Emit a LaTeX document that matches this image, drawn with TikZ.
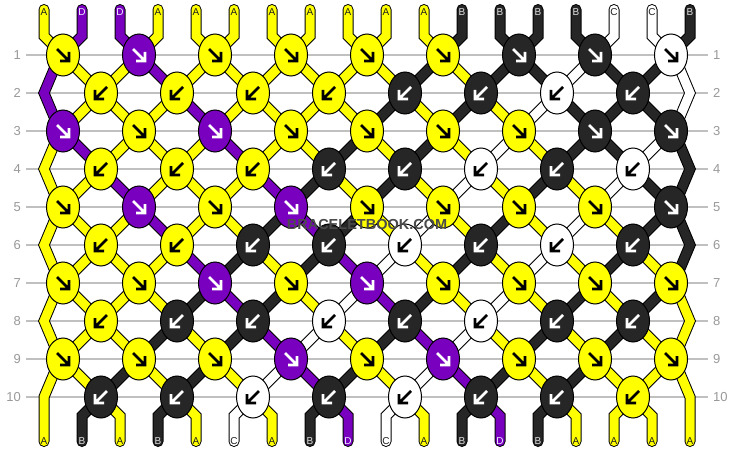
\documentclass[tikz,border=0pt]{standalone}
\usepackage{fontspec}
\setmainfont{Liberation Sans}
\usetikzlibrary{shapes.geometric}
\definecolor{cA}{HTML}{FFFF00}
\definecolor{cB}{HTML}{262626}
\definecolor{cC}{HTML}{FFFFFF}
\definecolor{cD}{HTML}{7800BE}
\colorlet{aA}{black}\colorlet{aB}{white}\colorlet{aC}{black}\colorlet{aD}{white}
\definecolor{lA}{HTML}{202020}
\definecolor{lB}{HTML}{E0E0E0}
\definecolor{lC}{HTML}{202020}
\definecolor{lD}{HTML}{EEEEFF}
\definecolor{gridgray}{HTML}{C0C0C0}
\definecolor{numgray}{HTML}{999999}
\definecolor{wmgray}{HTML}{4A4A4A}
\pgfdeclarelayer{bg}\pgfsetlayers{bg,main}
\tikzset{
 knot/.style={ellipse, draw=black, line width=1pt, minimum width=33pt, minimum height=42pt, inner sep=0pt},
 strand/.style={draw=black, line width=1pt, double=#1, double distance=9pt},
 arr/.style={draw=#1, line width=2.6pt},
 gridline/.style={draw=gridgray, line width=1.2pt},
 rownum/.style={text=numgray, font=\fontsize{13}{13}\selectfont, inner sep=0pt},
 endlbl/.style={font=\fontsize{10}{10}\selectfont, inner sep=0pt},
 wmark/.style={font=\fontsize{14.5}{14.5}\selectfont\bfseries, inner sep=0pt},
}
\newcommand\knotrow[2]{%
 \foreach \cl [count=\kk from 0] in {#2}{%
  \ifodd#1\relax\pgfmathsetmacro\kx{63+76*\kk}\else\pgfmathsetmacro\kx{101+76*\kk}\fi
  \pgfmathsetmacro\ky{55+38*(#1-1)}%
  \node[knot, fill=c\cl] (n#1-\kk) at (\kx,\ky) {};
  \ifodd#1\relax
   \draw[arr=a\cl] (n#1-\kk.center) +(-6,-6) -- +(5,5) +(6,-3) -- +(6,6) -- +(-3,6);
  \else
   \draw[arr=a\cl] (n#1-\kk.center) +(6,-6) -- +(-5,5) +(-6,-3) -- +(-6,6) -- +(3,6);
  \fi}}
\newcommand\strandgap[2]{%
 \foreach \cl [count=\p from 0] in {#2}{%
  \ifnum\p>0 \ifnum\p<17
   \pgfmathtruncatemacro\ka{floor(\p/2)}%
   \pgfmathtruncatemacro\kb{floor((\p-1)/2)}%
   \pgfmathtruncatemacro\jn{#1+1}%
   \ifodd#1\relax
    \draw[strand=c\cl] (n#1-\ka.center) -- (n\jn-\kb.center);
   \else
    \draw[strand=c\cl] (n#1-\kb.center) -- (n\jn-\ka.center);
   \fi
  \fi\fi}}
\begin{document}
\begin{tikzpicture}[x=1pt,y=-1pt]
\useasboundingbox (0,0) rectangle (734,452);
% knots
\knotrow{1}{A,D,A,A,A,A,B,B,C}
\knotrow{2}{A,A,A,A,B,B,C,B}
\knotrow{3}{D,A,D,A,A,A,A,B,B}
\knotrow{4}{A,A,A,B,B,C,B,C}
\knotrow{5}{A,D,A,D,A,A,A,A,B}
\knotrow{6}{A,A,B,B,C,B,C,B}
\knotrow{7}{A,A,D,A,D,A,A,A,A}
\knotrow{8}{A,B,B,C,B,C,B,B}
\knotrow{9}{A,A,A,D,A,D,A,A,A}
\knotrow{10}{B,B,C,B,C,B,B,A}
\begin{pgfonlayer}{bg}
\fill[white] (0,0) rectangle (734,452);
% grid and row numbers
\foreach \j in {1,...,10}{%
 \pgfmathsetmacro\ry{55+38*(\j-1)}%
 \draw[gridline] (26,\ry) -- (708,\ry);
 \node[rownum, anchor=east] (ll\j) at (21,\ry) {\j};
 \node[rownum, anchor=west] (lr\j) at (713,\ry) {\j};
}
% strands between rows
\strandgap{1}{D,A,A,D,A,A,A,A,A,A,B,A,B,B,C,B,B,C}
\strandgap{2}{D,A,A,A,D,A,A,A,A,B,A,B,A,C,B,B,B,C}
\strandgap{3}{A,D,A,A,A,D,A,A,B,A,B,A,C,A,B,B,C,B}
\strandgap{4}{A,A,D,A,A,A,D,B,A,B,A,C,A,B,A,C,B,B}
\strandgap{5}{A,A,A,D,A,A,B,D,B,A,C,A,B,A,C,A,B,B}
\strandgap{6}{A,A,A,A,D,B,A,B,D,C,A,B,A,C,A,B,A,B}
\strandgap{7}{A,A,A,A,B,D,B,A,C,D,B,A,C,A,B,A,B,A}
\strandgap{8}{A,A,A,B,A,B,D,C,A,B,D,C,A,B,A,B,A,A}
\strandgap{9}{A,A,B,A,B,A,C,D,B,A,C,D,B,A,B,A,A,A}
% edge zigzags
\foreach \j/\cL/\cR in {1/D/C,3/A/B,5/A/B,7/A/A}{%
 \pgfmathtruncatemacro\jb{\j+2}%
 \pgfmathsetmacro\ym{55+38*\j}%
 \coordinate (el\j) at (44,\ym);
 \coordinate (er\j) at (690,\ym);
 \draw[strand=c\cL] ([xshift=-3pt]n\j-0.center) -- (el\j) -- ([xshift=-3pt]n\jb-0.center);
 \draw[strand=c\cR] ([xshift=3pt]n\j-8.center) -- (er\j) -- ([xshift=3pt]n\jb-8.center);
}
% top ends
\foreach \cl [count=\p from 0] in {A,D,D,A,A,A,A,A,A,A,A,B,B,B,B,C,C,B}{%
 \pgfmathsetmacro\sx{44+38*\p}%
 \pgfmathtruncatemacro\ka{floor(\p/2)}%
 \coordinate (t\p) at (\sx,9.5);
 \draw[strand=c\cl, line cap=round] (t\p) -- (\sx,36) -- (n1-\ka.center);
}
% bottom ends
\foreach \cl [count=\p from 0] in {A,B,A,B,A,C,A,B,D,C,A,B,D,B,A,A,A,A}{%
 \pgfmathsetmacro\sx{44+38*\p}%
 \coordinate (b\p) at (\sx,441.5);
 \ifnum\p=0
  \draw[strand=c\cl, line cap=round] ([xshift=-3pt]n9-0.center) -- (44,397) -- (b\p);
 \else\ifnum\p=17
  \draw[strand=c\cl, line cap=round] ([xshift=3pt]n9-8.center) -- (690,397) -- (b\p);
 \else
  \pgfmathtruncatemacro\kb{floor((\p-1)/2)}%
  \draw[strand=c\cl, line cap=round] (n10-\kb.center) -- (\sx,416) -- (b\p);
 \fi\fi
}
\end{pgfonlayer}
% end labels
\foreach \cl [count=\p from 0] in {A,D,D,A,A,A,A,A,A,A,A,B,B,B,B,C,C,B}{%
 \pgfmathsetmacro\sx{44+38*\p}%
 \node[endlbl, text=l\cl] (tl\p) at (\sx,12) {\cl};
}
\foreach \cl [count=\p from 0] in {A,B,A,B,A,C,A,B,D,C,A,B,D,B,A,A,A,A}{%
 \pgfmathsetmacro\sx{44+38*\p}%
 \node[endlbl, text=l\cl] (bl\p) at (\sx,441) {\cl};
}
% watermark
\node[wmark, text=wmgray] (wm) at (367,225) {BRACELETBOOK.COM};
\end{tikzpicture}
\end{document}
